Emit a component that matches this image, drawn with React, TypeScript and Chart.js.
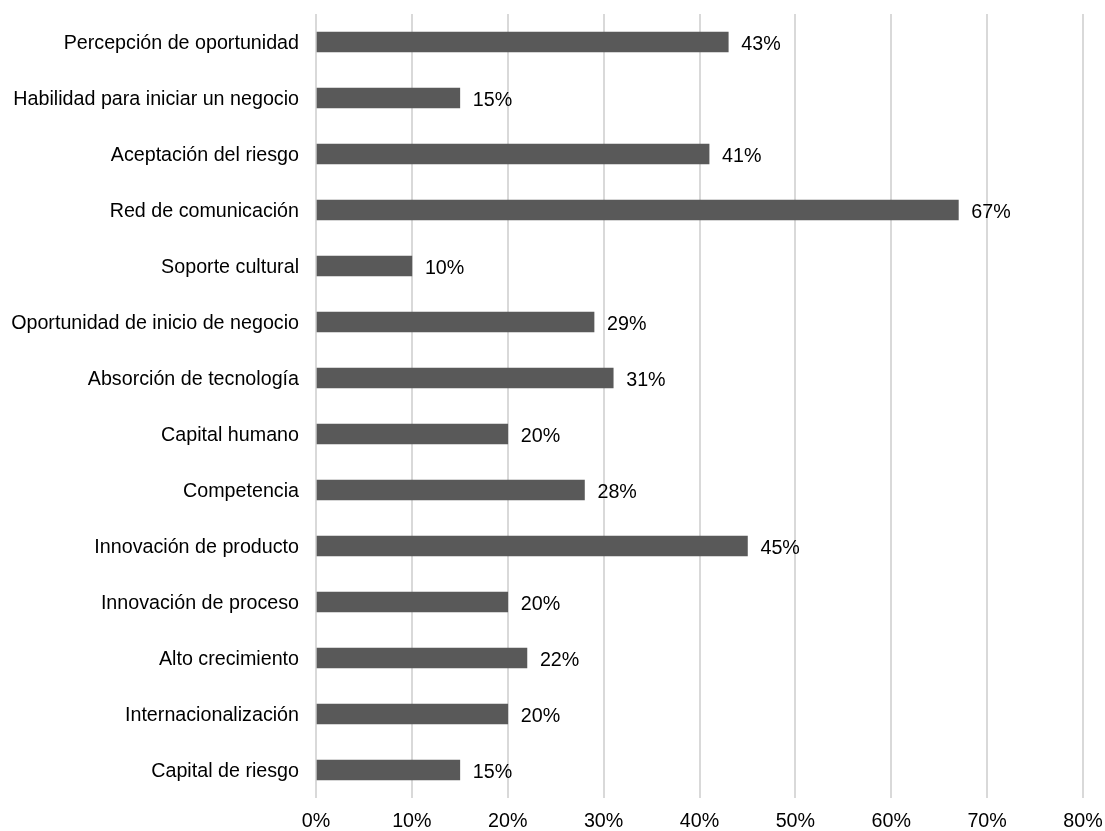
import React, { useEffect, useRef } from "react";
import { Chart, registerables } from "chart.js";

Chart.register(...registerables);

const categories = [
  "Percepción de oportunidad",
  "Habilidad para iniciar un negocio",
  "Aceptación del riesgo",
  "Red de comunicación",
  "Soporte cultural",
  "Oportunidad de inicio de negocio",
  "Absorción de tecnología",
  "Capital humano",
  "Competencia",
  "Innovación de producto",
  "Innovación de proceso",
  "Alto crecimiento",
  "Internacionalización",
  "Capital de riesgo",
];
const values = [43, 15, 41, 67, 10, 29, 31, 20, 28, 45, 20, 22, 20, 15];
const xTicks = [0, 10, 20, 30, 40, 50, 60, 70, 80];

const FONT = "'Liberation Sans', Arial, sans-serif";
const FSIZE = 19.7;

const valueLabels = {
  id: "valueLabels",
  afterDatasetsDraw(chart: any) {
    const ctx = chart.ctx;
    const meta = chart.getDatasetMeta(0);
    ctx.save();
    ctx.font = `${FSIZE}px ${FONT}`;
    ctx.fillStyle = "#000000";
    ctx.textAlign = "left";
    ctx.textBaseline = "middle";
    meta.data.forEach((bar: any, i: number) => {
      ctx.fillText(values[i] + "%", bar.x + 13, bar.y + 3);
    });
    ctx.restore();
  },
};

export default function App() {
  const ref = useRef<HTMLCanvasElement>(null);
  useEffect(() => {
    const chart = new Chart(ref.current!, {
      type: "bar",
      data: {
        labels: categories,
        datasets: [
          {
            data: values,
            backgroundColor: "#595959",
            barThickness: 20,
          },
        ],
      },
      options: {
        indexAxis: "y",
        animation: false,
        responsive: false,
        maintainAspectRatio: false,
        layout: { padding: { top: 14, right: 22, left: 0, bottom: 0 } },
        plugins: { legend: { display: false }, tooltip: { enabled: false } },
        scales: {
          x: {
            min: 0,
            max: 80,
            afterBuildTicks: (scale: any) => {
              scale.ticks = xTicks.map((v) => ({ value: v }));
            },
            afterFit: (scale: any) => {
              scale.height = 33;
              scale.paddingLeft = 0;
              scale.paddingRight = 0;
            },
            grid: { color: "#d9d9d9", lineWidth: 2, drawTicks: false },
            border: { display: false },
            ticks: {
              padding: 12,
              color: "#000000",
              font: { family: FONT, size: FSIZE },
              callback: (v: any) => v + "%",
            },
          },
          y: {
            afterFit: (scale: any) => {
              scale.width = 316;
              scale.paddingTop = 0;
              scale.paddingBottom = 0;
            },
            grid: { display: false, drawTicks: false },
            border: { display: false },
            ticks: {
              padding: 17,
              labelOffset: 2,
              color: "#000000",
              font: { family: FONT, size: FSIZE },
            },
          },
        },
      },
      plugins: [valueLabels],
    });
    return () => chart.destroy();
  }, []);
  return (
    <div style={{ position: "fixed", left: 0, top: 0, width: 1105, height: 831, background: "#fff" }}>
      <canvas ref={ref} width={1105} height={831} style={{ width: 1105, height: 831 }} />
    </div>
  );
}
